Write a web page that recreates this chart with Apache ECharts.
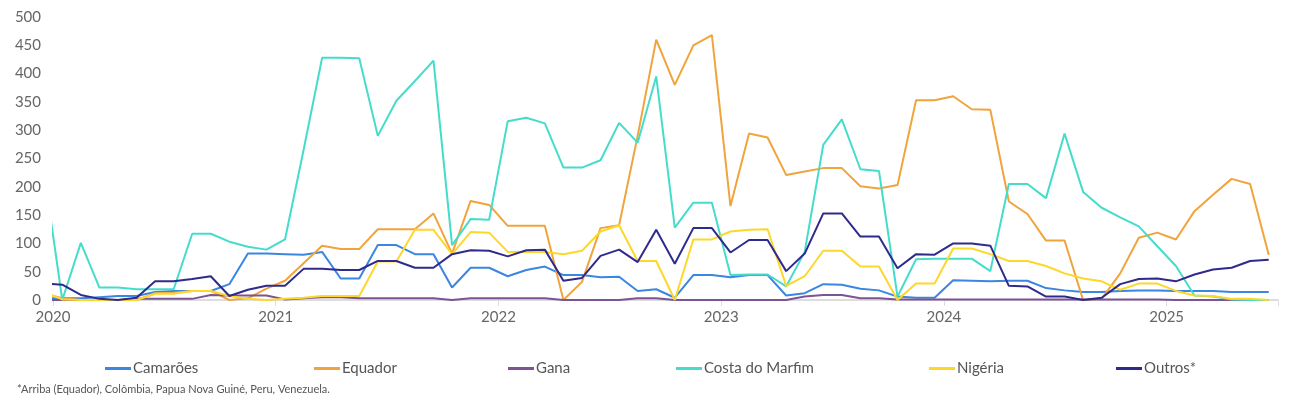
<!DOCTYPE html>
<html>
<head>
<meta charset="utf-8">
<script src="https://cdn.jsdelivr.net/npm/echarts@6/dist/echarts.min.js"></script>
<style>
  html, body { margin: 0; padding: 0; background: #fff; }
  #main { width: 1300px; height: 405px; }
</style>
</head>
<body>
<div id="main"></div>
<script>
// monthly values, Dec 2019 .. Jun 2025 (first point is clipped by the axis)
var camaroes = [3, 3, 3, 5, 7, 7, 14, 16, 16, 16, 28, 82, 82, 81, 80, 85, 38,
  38, 97, 97, 81, 81, 22, 57, 57, 42, 53, 59, 44, 44, 40, 41, 16,
  19, 4, 44, 44, 40, 44, 44, 8, 12, 28, 27, 20, 17, 6, 4, 4,
  35, 34, 33, 34, 34, 21, 17, 14, 14, 16, 17, 17, 16, 16, 16, 14, 14, 14];
var equador = [12, 3, 0, 0, 0, 0, 12, 13, 16, 16, 0, 3, 20, 34, 65, 96, 90,
  90, 125, 125, 125, 153, 82, 175, 168, 131, 131, 131, 0, 32, 127, 132, 290,
  460, 380, 450, 468, 166, 294, 287, 221, 227, 233, 233, 201, 197, 203, 353, 353,
  360, 337, 336, 174, 152, 105, 105, 0, 2, 47, 110, 119, 107, 157, 186, 214, 205, 80];
var gana = [0, 0, 0, 0, 0, 2, 2, 2, 2, 9, 8, 8, 8, 1, 3, 5, 5,
  3, 3, 3, 3, 3, 0, 3, 3, 3, 3, 3, 0, 0, 0, 0, 3,
  3, 0, 0, 0, 0, 0, 0, 0, 6, 9, 9, 3, 3, 1, 1, 1,
  1, 1, 1, 1, 1, 1, 1, 1, 1, 1, 1, 1, 0, 0, 0, 0, 0, 0];
var costa = [230, 0, 101, 22, 22, 19, 19, 19, 117, 117, 103, 94, 89, 107, 265, 428, 428,
  427, 290, 352, 387, 423, 97, 143, 142, 316, 322, 312, 234, 234, 247, 313, 278,
  395, 128, 172, 172, 44, 45, 45, 24, 85, 274, 319, 231, 228, 6, 72, 73,
  73, 73, 51, 205, 205, 180, 294, 191, 163, 146, 130, 95, 60, 8, 6, 1, 0, 0];
var nigeria = [14, 1, 0, 0, 0, 0, 11, 11, 16, 16, 7, 2, 0, 2, 4, 7, 7,
  7, 68, 68, 124, 124, 81, 120, 119, 85, 85, 85, 81, 87, 121, 132, 69,
  69, 0, 107, 107, 121, 124, 125, 25, 42, 87, 87, 59, 59, 0, 29, 29,
  91, 91, 81, 69, 69, 60, 47, 38, 33, 18, 29, 29, 16, 8, 7, 2, 2, 0];
var outros = [29, 27, 9, 2, 0, 4, 33, 33, 37, 42, 7, 18, 25, 25, 55, 55, 53,
  53, 69, 69, 57, 57, 81, 88, 87, 77, 88, 89, 34, 39, 78, 89, 67,
  124, 64, 127, 127, 84, 106, 106, 51, 82, 153, 153, 112, 112, 56, 81, 80,
  100, 100, 96, 25, 24, 6, 6, 0, 4, 28, 37, 38, 33, 45, 54, 57, 69, 71];
var yearLabels = ['2020', '2021', '2022', '2023', '2024', '2025'];

var names = ['Camarões', 'Equador', 'Gana', 'Costa do Marfim', 'Nigéria', 'Outros*'];
var colors = ['#3b86e0', '#f0a43c', '#7d5394', '#45dccb', '#fdd72a', '#2f2b8c'];
var values = [camaroes, equador, gana, costa, nigeria, outros];
var legendLeft = [100, 309, 503, 671, 924, 1111];

function pts(arr) {
  // x = months since Jan 2020, points sit mid-month
  return arr.map(function (v, i) { return [i - 1 + 0.5, v]; });
}

var chart = echarts.init(document.getElementById('main'));
var option = {
  animation: false,
  textStyle: { fontFamily: 'Lato' },
  grid: { left: 53, right: 22, top: 17, bottom: 105 },
  legend: names.map(function (n, i) {
    return {
      data: [n], left: legendLeft[i], top: 356,
      itemWidth: 26, itemHeight: 3, icon: 'rect', itemGap: 4,
      textStyle: { color: '#555', fontSize: 15, padding: [0, 0, 0, -3] }
    };
  }),
  graphic: [{
    type: 'text', left: 17, top: 384,
    style: { text: '*Arriba (Equador), Colômbia, Papua Nova Guiné, Peru, Venezuela.', fill: '#555', font: '11px Lato' }
  }],
  xAxis: {
    type: 'value', min: 0, max: 66, interval: 12,
    axisLine: { show: true, lineStyle: { color: '#ddd', width: 2 } },
    axisTick: { show: true, length: 6, lineStyle: { color: '#ddd' } },
    splitLine: { show: false },
    axisLabel: {
      color: '#666', fontSize: 15, margin: 10,
      formatter: function (v) { return yearLabels[v / 12] || ''; }
    }
  },
  yAxis: {
    type: 'value', min: 0, max: 500, interval: 50,
    axisLine: { show: false }, axisTick: { show: false },
    splitLine: { show: false },
    axisLabel: { color: '#666', fontSize: 15, margin: 12 }
  },
  series: names.map(function (n, i) {
    return {
      name: n, type: 'line', data: pts(values[i]), symbol: 'none',
      clip: true, color: colors[i],
      lineStyle: { width: 2, color: colors[i] }
    };
  })
};
chart.setOption(option);
</script>
</body>
</html>
